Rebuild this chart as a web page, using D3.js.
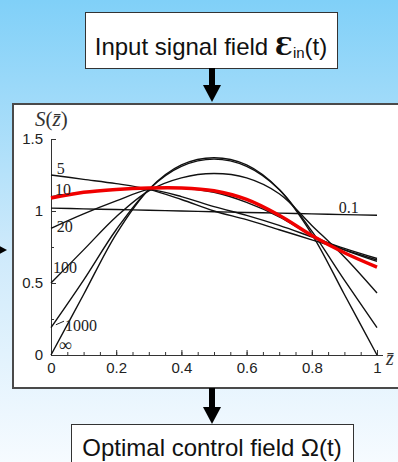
<!DOCTYPE html>
<html>
<head>
<meta charset="utf-8">
<script src="https://cdn.jsdelivr.net/npm/d3@7"></script>
<style>
  body { margin: 0; padding: 0; overflow: hidden; }
  svg { display: block; }
</style>
</head>
<body>
<div class="flowChart"></div>
<script>
// S(z), one array per curve
var zValues = [0, 0.1, 0.2, 0.3, 0.4, 0.5, 0.6, 0.7, 0.8, 0.9, 1];
var curveNames = ["0.1", "5", "10", "20", "100", "1000", "\u221e"];
var s01   = [1.02, 1.015, 1.01, 1.005, 1.0, 0.995, 0.99, 0.985, 0.98, 0.975, 0.97];
var s5    = [1.25, 1.22, 1.19, 1.15, 1.08, 1.00, 0.94, 0.87, 0.80, 0.73, 0.66];
var s10   = [1.10, 1.13, 1.15, 1.15, 1.10, 1.03, 0.97, 0.90, 0.82, 0.74, 0.67];
var s20   = [0.88, 0.98, 1.07, 1.15, 1.16, 1.13, 1.06, 0.96, 0.83, 0.73, 0.65];
var s100  = [0.50, 0.73, 0.96, 1.14, 1.23, 1.26, 1.23, 1.12, 0.90, 0.68, 0.43];
var s1000 = [0.19, 0.52, 0.87, 1.15, 1.31, 1.36, 1.31, 1.15, 0.86, 0.52, 0.19];
var sInf  = [0, 0.42, 0.84, 1.15, 1.32, 1.37, 1.32, 1.15, 0.84, 0.42, 0];
var sOptimal = [1.09, 1.13, 1.15, 1.16, 1.16, 1.14, 1.08, 0.97, 0.83, 0.71, 0.61];

var xTickValues = [0, 0.2, 0.4, 0.6, 0.8, 1];
var xTickLabels = ["0", "0.2", "0.4", "0.6", "0.8", "1"];
var yTickValues = [0, 0.5, 1, 1.5];
var yTickLabels = ["0", "0.5", "1", "1.5"];

// where each curve name sits, in data units [z, S]
var labelAnchors = [[0.883, 0.986], [0.018, 1.257], [0.012, 1.111], [0.018, 0.854],
                    [0.006, 0.569], [0.043, 0.165], [0.024, 0.03]];

var width = 398, height = 462;

var svg = d3.select(".flowChart").append("svg")
                                 .attr("width", width)
                                 .attr("height", height);

var grad = svg.append("defs").append("linearGradient")
  .attr("id", "bg")
  .attr("x1", 0).attr("y1", 0).attr("x2", 0).attr("y2", 1);
grad.append("stop").attr("offset", "0%").attr("stop-color", "#80d0f8");
grad.append("stop").attr("offset", "55%").attr("stop-color", "#cfeafb");
grad.append("stop").attr("offset", "100%").attr("stop-color", "#f6fbff");

svg.append("rect")
   .attr("width", width)
   .attr("height", height)
   .attr("fill", "url(#bg)");

var arrowDown = function(cx, y0, tip) {
  svg.append("rect")
     .attr("x", cx - 3).attr("y", y0)
     .attr("width", 6).attr("height", tip - y0 - 14)
     .attr("fill", "#000");
  svg.append("path")
     .attr("d", "M" + (cx - 9) + "," + (tip - 17) + "L" + (cx + 9) + "," + (tip - 17) + "L" + cx + "," + tip + "Z")
     .attr("fill", "#000");
};

// top box
svg.append("rect")
   .attr("x", 85.5).attr("y", 12.5)
   .attr("width", 252).attr("height", 56)
   .attr("fill", "#fff")
   .attr("stroke", "#333");

var topText = svg.append("text")
   .attr("x", 211).attr("y", 55)
   .attr("text-anchor", "middle")
   .attr("font-family", "Liberation Sans, Arial, sans-serif")
   .attr("font-size", 24)
   .attr("fill", "#111");
topText.append("tspan").text("Input signal field ");
topText.append("tspan").attr("font-family", "DejaVu Serif, serif").attr("font-weight", "bold").attr("font-size", 25).text("\u0190");
topText.append("tspan").attr("font-size", 15).attr("dy", 3).text("in");
topText.append("tspan").attr("dy", -3).text("(t)");

arrowDown(212, 68, 102);

// left arrow, mostly off the page
svg.append("path")
   .attr("d", "M-10,241L-10,259L7,250Z")
   .attr("fill", "#000");

// chart box
svg.append("rect")
   .attr("x", 13).attr("y", 104)
   .attr("width", 400).attr("height", 284)
   .attr("fill", "#fff")
   .attr("stroke", "#4a4a4a")
   .attr("stroke-width", 2);

var x = d3.scaleLinear().domain([0, 1]).range([51, 377]);
var y = d3.scaleLinear().domain([0, 1.5]).range([355, 139]);

var minorX = svg.append("g")
  .attr("transform", "translate(0," + y(0) + ")")
  .call(d3.axisBottom(x).tickValues(d3.range(0, 21).map(function(i) { return i / 20; }))
          .tickSize(-3).tickSizeOuter(0).tickFormat(""));

var majorX = svg.append("g")
  .attr("transform", "translate(0," + y(0) + ")")
  .call(d3.axisBottom(x).tickValues(xTickValues)
          .tickSize(-5).tickSizeOuter(0).tickPadding(7)
          .tickFormat(function(d, i) { return xTickLabels[i]; }));

var minorY = svg.append("g")
  .attr("transform", "translate(" + x(0) + ",0)")
  .call(d3.axisLeft(y).tickValues([0.25, 0.75, 1.25])
          .tickSize(-3).tickSizeOuter(0).tickFormat(""));

var majorY = svg.append("g")
  .attr("transform", "translate(" + x(0) + ",0)")
  .call(d3.axisLeft(y).tickValues(yTickValues)
          .tickSize(-5).tickSizeOuter(0).tickPadding(8)
          .tickFormat(function(d, i) { return yTickLabels[i]; }));

svg.selectAll(".domain, .tick line").attr("stroke", "#333");
svg.selectAll(".tick text")
   .attr("font-family", "Liberation Sans, Arial, sans-serif")
   .attr("font-size", 15)
   .attr("fill", "#222");

svg.append("line")
   .attr("x1", x(1)).attr("x2", x(1) + 6)
   .attr("y1", y(0) + 0.5).attr("y2", y(0) + 0.5)
   .attr("stroke", "#333");

var line = d3.line()
  .x(function(d, i) { return x(zValues[i]); })
  .y(function(d) { return y(d); })
  .curve(d3.curveCatmullRom.alpha(0.5));

var blackCurves = [s01, s5, s10, s20, s100, s1000, sInf];

svg.selectAll("path.curve")
   .data(blackCurves)
   .enter().append("path")
   .attr("class", "curve")
   .attr("d", line)
   .attr("fill", "none")
   .attr("stroke", "#111")
   .attr("stroke-width", 1.4);

svg.append("path")
   .attr("d", line(sOptimal))
   .attr("fill", "none")
   .attr("stroke", "#f00000")
   .attr("stroke-width", 3.5);

svg.selectAll("text.curveName")
   .data(curveNames)
   .enter().append("text")
   .attr("class", "curveName")
   .attr("x", function(d, i) { return x(labelAnchors[i][0]); })
   .attr("y", function(d, i) { return y(labelAnchors[i][1]); })
   .attr("font-family", "Liberation Serif, Times New Roman, serif")
   .attr("font-size", function(d) { return d === "\u221e" ? 18 : 16; })
   .attr("fill", "#222")
   .text(function(d) { return d; });

// little leader next to 1000
svg.append("line")
   .attr("x1", x(0.015)).attr("y1", y(0.21))
   .attr("x2", x(0.04)).attr("y2", y(0.235))
   .attr("stroke", "#222");

var sLabel = svg.append("text")
   .attr("x", 35).attr("y", 126)
   .attr("font-family", "Liberation Serif, Times New Roman, serif")
   .attr("font-size", 21)
   .attr("fill", "#333");
sLabel.append("tspan").attr("font-style", "italic").text("S");
sLabel.append("tspan").text("(");
sLabel.append("tspan").attr("font-style", "italic").text("z\u0304");
sLabel.append("tspan").text(")");

svg.append("text")
   .attr("x", 386).attr("y", 365)
   .attr("font-family", "Liberation Serif, Times New Roman, serif")
   .attr("font-style", "italic")
   .attr("font-size", 20)
   .attr("fill", "#333")
   .text("z\u0304");

arrowDown(212, 388, 424);

// bottom box
svg.append("rect")
   .attr("x", 71.5).attr("y", 424.5)
   .attr("width", 282).attr("height", 60)
   .attr("fill", "#fff")
   .attr("stroke", "#333");

svg.append("text")
   .attr("x", 212).attr("y", 456)
   .attr("text-anchor", "middle")
   .attr("font-family", "Liberation Sans, Arial, sans-serif")
   .attr("font-size", 24)
   .attr("fill", "#111")
   .text("Optimal control field \u03a9(t)");
</script>
</body>
</html>
